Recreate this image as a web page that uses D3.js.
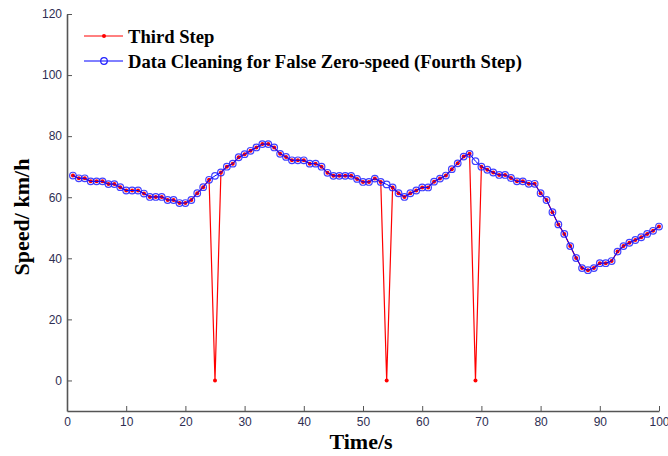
<!DOCTYPE html>
<html>
<head>
<meta charset="utf-8">
<script src="https://cdn.jsdelivr.net/npm/d3@7"></script>
<style>
  html, body { margin: 0; padding: 0; background: #fff; }
  svg { display: block; }
  .tick text { font-family: "Liberation Sans", Arial, sans-serif; font-size: 12px; fill: #2e2e52; }
  .axis path, .axis line { stroke: #555; }
  .axis-title, .legend-text { font-family: "Liberation Serif", "Times New Roman", serif; font-weight: bold; fill: #000; }
</style>
</head>
<body>
<div id="chart"></div>
<script>
// time in seconds, one sample per second
const times = d3.range(1, 101);

// speed after the third step (false zeros still in)
const thirdStep = [
  67.1, 66.2, 66.2, 65.2, 65.2, 65.2, 64.3, 64.3, 63.3, 62.2,
  62.2, 62.2, 61.2, 60.1, 60.1, 60.1, 59.1, 59.1, 58.1, 58.1,
  59.1, 61.3, 63.3, 65.7, 0, 68.1, 70.0, 71.0, 73.1, 74.1,
  75.2, 76.3, 77.4, 77.4, 76.3, 74.2, 73.2, 72.1, 72.1, 72.1,
  71.0, 71.0, 70.0, 68.0, 67.0, 67.0, 67.0, 67.0, 66.0, 65.0,
  65.0, 66.1, 65.0, 0, 63.2, 61.3, 60.1, 61.3, 62.2, 63.2,
  63.2, 65.1, 66.1, 67.1, 69.2, 71.1, 73.3, 74.2, 0, 70.0,
  69.0, 68.1, 67.3, 67.3, 66.3, 65.2, 65.2, 64.4, 64.4, 61.3,
  59.1, 55.1, 51.1, 48.0, 44.0, 40.1, 36.8, 36.1, 36.8, 38.4,
  38.4, 39.1, 42.2, 44.0, 45.1, 46.0, 46.9, 48.0, 49.0, 50.4,
];

// replaced values for the false zero-speed samples (fourth step)
const cleanedTimes = [25, 54, 69];
const cleanedValues = [67.0, 64.2, 71.8];

const xTicks = [0, 10, 20, 30, 40, 50, 60, 70, 80, 90, 100];
const yTicks = [0, 20, 40, 60, 80, 100, 120];

const seriesNames = ["Third Step", "Data Cleaning for False Zero-speed (Fourth Step)"];

const width = 668;
const height = 456;
const margin = { top: 14, right: 9, bottom: 45, left: 67 };

const third = times.map((t, i) => ({ t, v: thirdStep[i] }));
const fourth = third.map((d) => {
  const k = cleanedTimes.indexOf(d.t);
  return { t: d.t, v: k < 0 ? d.v : cleanedValues[k], cleaned: k >= 0 };
});

const x = d3.scaleLinear().domain([0, 100]).range([margin.left, width - margin.right]);
const y = d3.scaleLinear().domain([-10, 120]).range([height - margin.bottom, margin.top]);

const svg = d3.select("#chart").append("svg")
  .attr("width", width)
  .attr("height", height);

// axes, MATLAB style: ticks point into the plot
svg.append("g")
  .attr("class", "axis")
  .attr("transform", `translate(0,${y(-10)})`)
  .call(d3.axisBottom(x).tickValues(xTicks).tickSizeInner(-5).tickSizeOuter(0).tickPadding(6))
  .call((g) => g.select(".domain").attr("stroke-width", 1.6));

svg.append("g")
  .attr("class", "axis")
  .attr("transform", `translate(${x(0)},0)`)
  .call(d3.axisLeft(y).tickValues(yTicks).tickSizeInner(-5).tickSizeOuter(0).tickPadding(5))
  .call((g) => g.select(".domain").attr("stroke-width", 1.6));

const line = d3.line().x((d) => x(d.t)).y((d) => y(d.v));

// third step (red)
svg.append("path")
  .datum(third)
  .attr("fill", "none")
  .attr("stroke", "#ff0000")
  .attr("stroke-width", 1.2)
  .attr("d", line);

svg.append("g")
  .selectAll("circle")
  .data(third)
  .join("circle")
  .attr("cx", (d) => x(d.t))
  .attr("cy", (d) => y(d.v))
  .attr("r", 2)
  .attr("fill", "#ff0000");

// fourth step (blue)
svg.append("path")
  .datum(fourth)
  .attr("fill", "none")
  .attr("stroke", "#0000ff")
  .attr("stroke-width", 1)
  .attr("d", line);

svg.append("g")
  .selectAll("circle")
  .data(fourth)
  .join("circle")
  .attr("cx", (d) => x(d.t))
  .attr("cy", (d) => y(d.v))
  .attr("r", 3.3)
  .attr("fill", "none")
  .attr("stroke", "#2020ff")
  .attr("stroke-opacity", 0.85)
  .attr("stroke-width", 1.2);

// axis titles
svg.append("text")
  .attr("class", "axis-title")
  .attr("x", 361)
  .attr("y", 449)
  .attr("text-anchor", "middle")
  .attr("font-size", 22)
  .text("Time/s");

svg.append("text")
  .attr("class", "axis-title")
  .attr("transform", "translate(29,217) rotate(-90)")
  .attr("text-anchor", "middle")
  .attr("font-size", 22)
  .text("Speed/ km/h");

// legend
const legend = svg.append("g").attr("transform", "translate(84,36)");
const legendColors = ["#ff0000", "#0000ff"];
const item = legend.selectAll("g")
  .data(seriesNames)
  .join("g")
  .attr("transform", (_, i) => `translate(0,${i * 25})`);

item.append("line")
  .attr("x1", 0)
  .attr("x2", 39)
  .attr("stroke", (_, i) => legendColors[i])
  .attr("stroke-width", 1);

item.filter((_, i) => i === 0).append("circle")
  .attr("cx", 20).attr("r", 2).attr("fill", "#ff0000");

item.filter((_, i) => i === 1).append("circle")
  .attr("cx", 20).attr("r", 3.3).attr("fill", "none")
  .attr("stroke", "#2020ff").attr("stroke-width", 1.2);

item.append("text")
  .attr("class", "legend-text")
  .attr("x", 44)
  .attr("dy", "0.35em")
  .attr("font-size", 18.6)
  .text((d) => d);
</script>
</body>
</html>
